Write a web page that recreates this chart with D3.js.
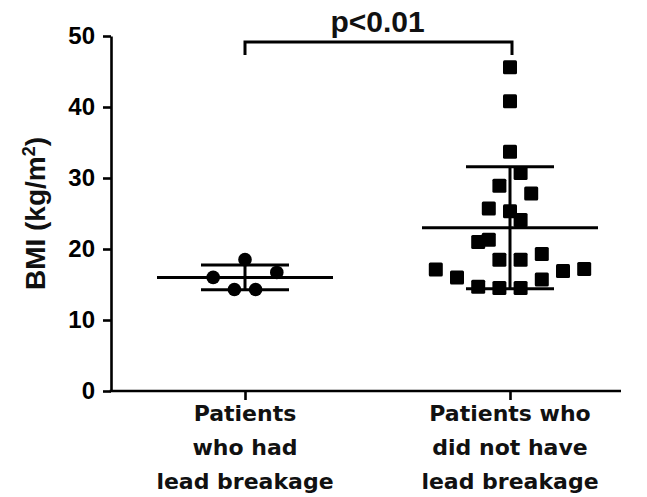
<!DOCTYPE html>
<html>
<head>
<meta charset="utf-8">
<script src="https://cdn.jsdelivr.net/npm/d3@7"></script>
<style>
  html, body { margin: 0; padding: 0; background: #fff; }
  svg { display: block; }
</style>
</head>
<body>
<svg id="chart" width="647" height="497"></svg>
<script>
// ---- data ----
const categories = [
  ["Patients", "who had", "lead breakage"],
  ["Patients who", "did not have", "lead breakage"]
];
const groupKeys = ["had", "notHad"];
// group 1 (circles): BMI values and jitter slots
const hadValues = [18.5, 16.0, 14.3, 14.3, 16.7];
const hadSlots  = [0, -3, -1, 1, 3];
// group 2 (squares): BMI values and jitter slots
const notHadValues = [45.6, 40.8, 33.7, 30.7, 28.9, 27.8, 25.7, 25.3, 24.1, 21.0, 21.3,
                      19.3, 18.5, 18.5, 17.1, 16.9, 17.2, 16.0, 15.7, 14.7, 14.5, 14.5];
const notHadSlots  = [0, 0, 0, 1, -1, 2, -2, 0, 1, -3, -2,
                      3, -1, 1, -7, 5, 7, -5, 3, -3, -1, 1];
const means = [16.0, 23.0];
const sds   = [1.75, 8.6];
const yTicks = [0, 10, 20, 30, 40, 50];
const pLabel = "p<0.01";

// ---- layout ----
const svg = d3.select("#chart");
const axisLeftX = 111, axisRightX = 621, yTop = 36, yBottom = 391;

const y = d3.scaleLinear().domain([0, 50]).range([yBottom, yTop]);
const x = d3.scalePoint().domain(groupKeys).range([245, 510]);
const jitter = d3.scaleLinear().domain([-1, 1]).range([-10.6, 10.6]);

const axisStroke = 2.6;

// y axis
const yAxis = svg.append("g")
  .attr("transform", `translate(${axisLeftX},0)`)
  .call(d3.axisLeft(y).tickValues(yTicks).tickSize(8).tickSizeOuter(0).tickPadding(8));
yAxis.select(".domain").attr("stroke-width", axisStroke).attr("stroke", "#000");
yAxis.selectAll(".tick line").attr("stroke-width", axisStroke).attr("stroke", "#000");
yAxis.selectAll(".tick text")
  .attr("font-family", "Liberation Sans, Arial, sans-serif")
  .attr("font-weight", "bold").attr("font-size", 24).attr("fill", "#000");

// x axis
const xAxis = svg.append("g")
  .attr("transform", `translate(0,${yBottom})`)
  .call(d3.axisBottom(x).tickSize(9).tickSizeOuter(0).tickFormat(""));
xAxis.select(".domain").remove();
xAxis.selectAll(".tick line").attr("stroke-width", axisStroke).attr("stroke", "#000");
xAxis.append("line")
  .attr("x1", axisLeftX - axisStroke / 2).attr("x2", axisRightX)
  .attr("y1", 0).attr("y2", 0)
  .attr("stroke", "#000").attr("stroke-width", axisStroke);

// category labels
groupKeys.forEach((k, i) => {
  const t = svg.append("text")
    .attr("text-anchor", "middle")
    .attr("font-family", "DejaVu Sans, Verdana, sans-serif")
    .attr("font-weight", "bold")
    .attr("font-size", 22)
    .attr("fill", "#111");
  categories[i].forEach((line, j) => {
    t.append("tspan").attr("x", x(k)).attr("y", 421 + j * 34).text(line);
  });
});

// y title
const yt = svg.append("text")
  .attr("transform", `translate(45,${(yTop + yBottom) / 2}) rotate(-90)`)
  .attr("text-anchor", "middle")
  .attr("font-family", "Liberation Sans, Arial, sans-serif")
  .attr("font-weight", "bold")
  .attr("font-size", 28)
  .attr("fill", "#111");
yt.append("tspan").text("BMI (kg/m");
yt.append("tspan").attr("baseline-shift", "super").attr("font-size", 18).text("2");
yt.append("tspan").text(")");

// mean / SD bars
const meanHalf = 88, sdHalf = 44;
groupKeys.forEach((k, i) => {
  const cx = x(k);
  const g = svg.append("g").attr("stroke", "#000").attr("stroke-width", 3);
  g.append("line").attr("x1", cx - meanHalf).attr("x2", cx + meanHalf)
    .attr("y1", y(means[i])).attr("y2", y(means[i]));
  g.append("line").attr("x1", cx).attr("x2", cx)
    .attr("y1", y(means[i] - sds[i])).attr("y2", y(means[i] + sds[i]));
  [means[i] - sds[i], means[i] + sds[i]].forEach(v => {
    g.append("line").attr("x1", cx - sdHalf).attr("x2", cx + sdHalf)
      .attr("y1", y(v)).attr("y2", y(v));
  });
});

// points
svg.append("g").selectAll("circle")
  .data(hadValues.map((v, i) => ({ v, s: hadSlots[i] })))
  .join("circle")
  .attr("cx", d => x("had") + jitter(d.s))
  .attr("cy", d => y(d.v))
  .attr("r", 6.8)
  .attr("fill", "#000");

const sq = 14;
svg.append("g").selectAll("rect")
  .data(notHadValues.map((v, i) => ({ v, s: notHadSlots[i] })))
  .join("rect")
  .attr("x", d => x("notHad") + jitter(d.s) - sq / 2)
  .attr("y", d => y(d.v) - sq / 2)
  .attr("width", sq).attr("height", sq)
  .attr("rx", 1.5)
  .attr("fill", "#000");

// significance bracket
const brY = 42, brDrop = 13;
svg.append("path")
  .attr("d", `M${x("had")},${brY + brDrop}V${brY}H${x("notHad") + 2}V${brY + brDrop}`)
  .attr("fill", "none").attr("stroke", "#000").attr("stroke-width", 3);
svg.append("text")
  .attr("x", (x("had") + x("notHad")) / 2).attr("y", 32)
  .attr("text-anchor", "middle")
  .attr("font-family", "Liberation Sans, Arial, sans-serif")
  .attr("font-weight", "bold")
  .attr("font-size", 30)
  .attr("fill", "#111")
  .text(pLabel);
</script>
</body>
</html>
